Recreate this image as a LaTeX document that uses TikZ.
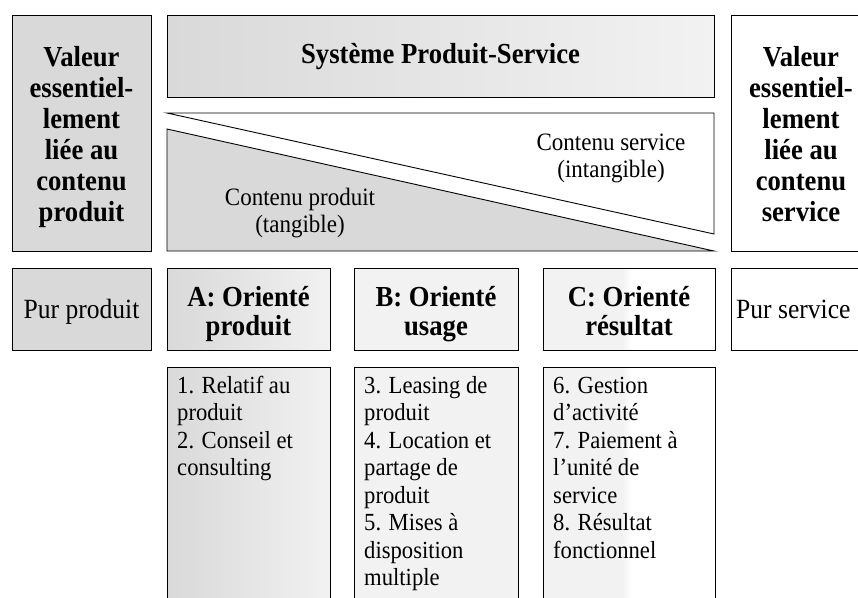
\documentclass[tikz,border=0pt]{standalone}
\usepackage{fontspec}
\setmainfont{Liberation Serif}[FakeStretch=0.92]
\definecolor{gA}{HTML}{D9D9D9}
\definecolor{gB}{HTML}{F2F2F2}
\definecolor{gR}{HTML}{F1F1F1}
\newcommand\mlines[2]{\begin{tabular}[t]{@{}#1@{}}#2\end{tabular}}
\begin{document}
\begin{tikzpicture}[x=1pt,y=-1pt,
  boxline/.style={draw=black, line width=0.9pt},
  bigbold/.style={font=\fontsize{29}{31}\selectfont\bfseries, anchor=base, inner sep=0pt},
  headtxt/.style={font=\fontsize{29}{29}\selectfont\bfseries, anchor=base, inner sep=0pt},
  plaintxt/.style={font=\fontsize{27.8}{30}\selectfont, anchor=base, inner sep=0pt},
  trilabel/.style={font=\fontsize{25}{27}\selectfont, anchor=base, inner sep=0pt},
  listtxt/.style={font=\fontsize{24.6}{27.5}\selectfont, anchor=base west, inner sep=0pt}]
\clip (0,0) rectangle (858,597);
\fill[white] (0,0) rectangle (858,597);
% left column
\filldraw[boxline, fill=gA] (12,15) rectangle (151,251);
\node[bigbold] (valP) at (81.5,66.5) {\mlines{c}{Valeur\\essentiel-\\lement\\liée au\\contenu\\produit}};
% top box
\shade[left color=gA, right color=gB] (167,15) rectangle (714,97);
\draw[boxline] (167,15) rectangle (714,97);
\node[headtxt] (sps) at (440.5,63) {Système Produit-Service};
% triangles
\filldraw[boxline, fill=white] (167,113) -- (714,113) -- (714,234) -- cycle;
\filldraw[boxline, fill=gA] (167,129) -- (714,251) -- (167,251) -- cycle;
\node[trilabel] (cserv) at (611,150) {\mlines{c}{Contenu service\\(intangible)}};
\node[trilabel] (cprod) at (300,205) {\mlines{c}{Contenu produit\\(tangible)}};
% right column
\draw[boxline] (731,15) rectangle (872,251);
\node[bigbold] (valS) at (801,66.5) {\mlines{c}{Valeur\\essentiel-\\lement\\liée au\\contenu\\service}};
% row 2
\filldraw[boxline, fill=gA] (12,268) rectangle (151,350);
\node[plaintxt] (pp) at (81.5,318) {Pur produit};
\shade[left color=gA, right color=gR] (167,268) rectangle (330,350);
\draw[boxline] (167,268) rectangle (330,350);
\node[headtxt] (oa) at (248.5,306) {\mlines{c}{A: Orienté\\produit}};
\filldraw[boxline, fill=gB] (354,268) rectangle (518,350);
\node[headtxt] (ob) at (436,306) {\mlines{c}{B: Orienté\\usage}};
\fill[gB] (543,268) rectangle (622,350);
\shade[left color=gB, right color=white] (622,268) rectangle (632,350);
\draw[boxline] (543,268) rectangle (715,350);
\node[headtxt] (oc) at (629,306) {\mlines{c}{C: Orienté\\résultat}};
\draw[boxline] (731,268) rectangle (872,350);
\node[plaintxt, anchor=base west] (ps) at (736,318) {Pur service};
% row 3
\shade[left color=gA, right color=gR] (167,367) rectangle (330,620);
\draw[boxline] (167,367) rectangle (330,620);
\node[listtxt] (la) at (177,393) {\mlines{l}{1. Relatif au\\produit\\2. Conseil et\\consulting}};
\filldraw[boxline, fill=gB] (354,367) rectangle (518,620);
\node[listtxt] (lb) at (364,393) {\mlines{l}{3. Leasing de\\produit\\4. Location et\\partage de\\produit\\5. Mises à\\disposition\\multiple}};
\fill[gB] (543,367) rectangle (622,620);
\shade[left color=gB, right color=white] (622,367) rectangle (632,620);
\draw[boxline] (543,367) rectangle (715,620);
\node[listtxt] (lc) at (553,393) {\mlines{l}{6. Gestion\\d’activité\\7. Paiement à\\l’unité de\\service\\8. Résultat\\fonctionnel}};
\end{tikzpicture}
\end{document}
